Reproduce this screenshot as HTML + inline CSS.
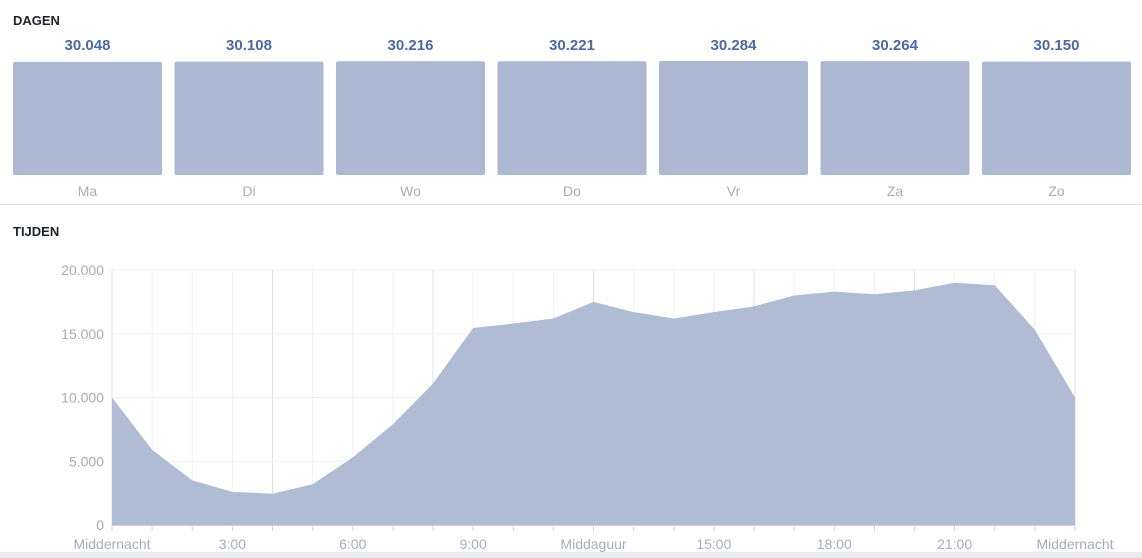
<!DOCTYPE html>
<html><head><meta charset="utf-8"><style>
body{margin:0;background:#fff;width:1142px;height:558px;overflow:hidden;font-family:"Liberation Sans",Arial,sans-serif;position:relative}
.h{position:absolute;left:13px;font-size:13px;font-weight:bold;color:#1d2129}
</style></head><body>
<div class="h" style="top:13px">DAGEN</div>
<div class="h" style="top:224px">TIJDEN</div>
<div style="position:absolute;left:0;top:204px;width:1142px;height:1px;background:#dddfe2"></div>
<div style="position:absolute;left:0;top:552px;width:1142px;height:6px;background:#e9ebee"></div>
<svg id="days" width="1142" height="204" style="position:absolute;left:0;top:0"></svg>
<svg id="times" width="1142" height="558" style="position:absolute;left:0;top:0"></svg>
<script>
const days=["Ma","Di","Wo","Do","Vr","Za","Zo"];
const dayValues=[30048,30108,30216,30221,30284,30264,30150];
const hourValues=[10000,5900,3500,2600,2450,3200,5300,7900,11100,15450,15800,16200,17500,16700,16200,16700,17150,18000,18300,18100,18400,19000,18800,15300,10000];
const yTicks=[0,5000,10000,15000,20000];
const xLabelHours=[0,3,6,9,12,15,18,21,24];
const xLabelTexts=["Middernacht","3:00","6:00","9:00","Middaguur","15:00","18:00","21:00","Middernacht"];
const NS="http://www.w3.org/2000/svg";
function mk(p,t,a){const e=document.createElementNS(NS,t);for(const k in a)e.setAttribute(k,a[k]);p.appendChild(e);return e;}
function fmt(v){return v.toString().replace(/\B(?=(\d{3})+(?!\d))/g,".");}
// bars
const ds=document.getElementById('days');
const bx=i=>13+i*161.5, bw=149, bBot=175, bMax=Math.max(...dayValues);
const bh=v=>v/bMax*114;
days.forEach((d,i)=>{
  const r=mk(ds,'rect',{x:bx(i),y:bBot-bh(dayValues[i]),width:bw,height:bh(dayValues[i]),rx:2,fill:'#adb9d3'});
  
  
  const t=mk(ds,'text',{x:bx(i)+bw/2,y:50,'text-anchor':'middle','font-size':15,'font-weight':'bold',fill:'#4e69a2'});
  t.textContent=fmt(dayValues[i]);
  
  
  const l=mk(ds,'text',{x:bx(i)+bw/2,y:196,'text-anchor':'middle','font-size':14,fill:'#a8acb3'});
  l.textContent=d;
  
  
});
// area
const ts=document.getElementById('times');
const X=h=>112+h*(963/24), Y=v=>525-v/20000*255;
for(let h=0;h<=24;h++){
  const g=mk(ts,'line',{x1:X(h),x2:X(h),y1:270,y2:525,stroke:h%4==0?'#dcdfe5':'#eff0f3','stroke-width':1});
  
  
  const tk=mk(ts,'line',{x1:X(h),x2:X(h),y1:525,y2:531,stroke:'#d0d3d9'});
  
  
}
yTicks.forEach(v=>{
  const g=mk(ts,'line',{x1:112,x2:1075,y1:Y(v),y2:Y(v),stroke:'#eff0f3'});
  
  
  const t=mk(ts,'text',{x:104,y:Y(v)+5,'text-anchor':'end','font-size':14,fill:'#a8acb3'});
  t.textContent=fmt(v);
  
  
});
let d='M'+X(0)+','+Y(0);
hourValues.forEach((v,h)=>{d+=' L'+X(h)+','+Y(v);});
d+=' L'+X(hourValues.length-1)+','+Y(0)+' Z';
const a=mk(ts,'path',{d:d,fill:'#adb9d3','fill-opacity':0.97});


const ax=mk(ts,'line',{x1:112,x2:1075,y1:525.5,y2:525.5,stroke:'#d0d3d9'});


xLabelHours.forEach((h,i)=>{
  const t=mk(ts,'text',{x:X(h),y:549,'text-anchor':'middle','font-size':14,fill:'#a8acb3'});
  t.textContent=xLabelTexts[i];
  
  
});
</script>
</body></html>
